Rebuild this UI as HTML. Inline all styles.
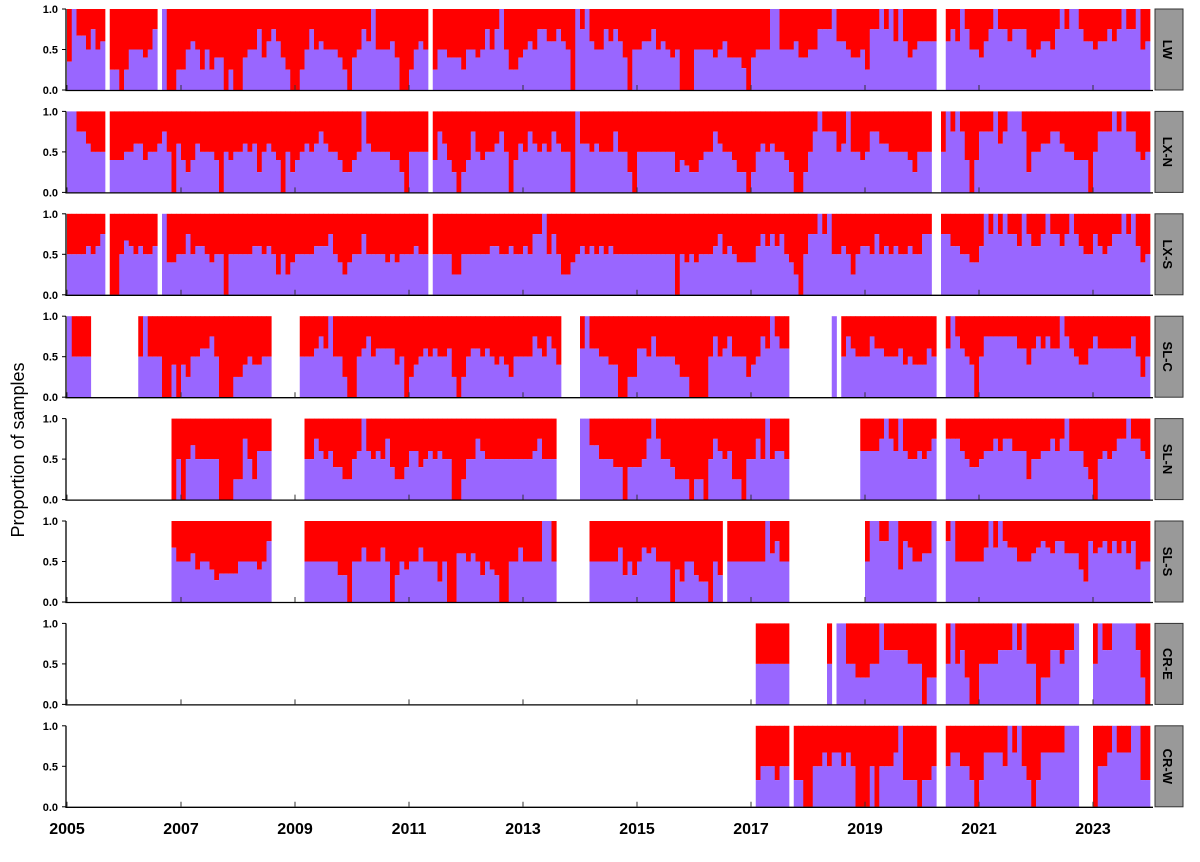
<!DOCTYPE html>
<html><head><meta charset="utf-8"><style>
html,body{margin:0;padding:0;background:#fff;}
svg{display:block;font-family:"Liberation Sans",Arial,sans-serif;}
</style></head><body>
<svg id="chart" width="1200" height="862" viewBox="0 0 1200 862" xmlns="http://www.w3.org/2000/svg">
<text x="0" y="0" transform="translate(24,450) rotate(-90)" text-anchor="middle" font-size="18">Proportion of samples</text>
</svg>
<script>
function N(n){return new Array(n).fill(null);}
const sites = ["LW","LX-N","LX-S","SL-C","SL-N","SL-S","CR-E","CR-W"];
const yTicks = [0,0.5,1];
const yTickLabels = ["0.0","0.5","1.0"];
const xYears = [2005,2007,2009,2011,2013,2015,2017,2019,2021,2023];
const LW = [.35,1,.67,.67,.5,.75,.5,.6,null,
.25,.25,0,.25,.5,.5,.5,.4,.5,.75,null,
1,0,0,.25,.25,.5,.6,.5,.25,.5,.25,.4,.4,0,.25,0,0,.4,.5,.5,.75,.4,.6,.75,.6,.4,.25,0,0,.25,.5,.75,.5,.6,.5,.5,.5,.4,.25,0,.4,.5,.75,.6,1,.5,.5,.5,.6,.4,0,0,.25,.5,.6,.5,null,
.25,.5,.5,.4,.4,.4,.25,.5,.5,.4,.5,.75,.5,.75,1,.5,.25,.25,.4,.5,.6,.5,.75,.75,.6,.6,.75,.6,.5,0,1,.75,1,.6,.5,
.5,.75,.6,.75,.6,.4,0,.5,.5,.6,.6,.75,.5,.6,.5,.4,.5,0,0,0,.5,.5,.5,.5,.4,.5,.6,.4,.4,.4,.27,0,.4,.5,.5,.5,1,1,.5,.5,.5,.6,.4,.4,.5,.5,.75,.75,.75,1,.6,.6,.5,.4,.4,.5,.25,.75,.75,1,.75,1,.6,1,.6,.4,.5,.6,.6,.6,.6,
null,null,
.6,.75,.6,1,.75,.5,.5,.4,.6,.75,1,.75,.75,.6,.75,.75,.75,.5,.4,.5,.6,.6,.5,.75,1,.75,1,1,.75,.6,.6,.5,.6,.6,.75,.6,.75,1,.75,.75,1,.5,.6];
const LXN = [1,1,.75,.75,.6,.5,.5,.5,null,
.4,.4,.4,.5,.5,.6,.6,.4,.5,.5,.6,.75,.5,0,.6,.4,.25,.4,.6,.5,.5,.5,.4,0,.5,.4,.5,.5,.6,.5,.6,.25,.5,.6,.5,.4,0,.5,.25,.4,.5,.6,.5,.6,.75,.6,.5,.5,.4,.25,.25,.4,.5,1,.6,.5,.5,.5,.5,.4,.4,.25,0,.5,.5,.5,.5,null,
.4,.75,.6,.4,.25,0,.25,.4,.75,.5,.4,.5,.5,.6,.75,.5,0,.4,.6,.5,.75,.6,.5,.6,.5,.75,.6,.5,.5,0,1,.6,.6,.5,.6,.5,.5,.5,.75,.5,.5,.25,0,.5,.5,.5,.5,.5,.5,.5,.5,.25,.4,.33,.25,.25,.4,.5,.5,.75,.6,.5,.5,.4,.25,.25,0,.25,.5,.6,.5,.6,.5,.5,.4,.25,0,0,.25,.5,.75,1,.75,.75,.75,.5,.6,1,.5,.5,.4,.5,.75,.75,.6,.6,.5,.5,.5,.5,.4,.25,.5,.5,.5,
null,null,
.5,1,.75,1,.75,.4,0,.4,.75,.75,.75,1,.6,.75,1,1,1,.75,.25,.5,.5,.6,.6,.75,.75,.6,.5,.5,.4,.4,.4,0,.5,.75,.75,.75,1,.75,1,.75,.75,.5,.4,.5];
const LXS = [.5,.5,.5,.5,.6,.5,.6,.75,null,
0,0,.5,.67,.6,.5,.6,.5,.5,.6,null,
1,.4,.4,.5,.5,.75,.5,.6,.6,.5,.4,.5,.5,0,.5,.5,.5,.5,.5,.6,.6,.5,.6,.5,.25,.5,.25,.4,.5,.5,.5,.5,.6,.6,.6,.75,.5,.4,.25,.4,.5,.5,.75,.5,.5,.5,.5,.4,.5,.4,.5,.5,.5,.6,.5,.5,null,
.5,.5,.5,.5,.25,.25,.5,.5,.5,.5,.5,.5,.6,.6,.5,.5,.6,.5,.5,.6,.5,.75,.75,1,.5,.75,.5,.25,.25,.4,.5,.6,.5,.6,.5,.6,.5,.6,.5,.5,.5,.5,.5,.5,.5,.5,.5,.5,.5,.5,.5,0,.5,.4,.5,.4,.5,.5,.5,.6,.75,.5,.6,.5,.4,.4,.4,.4,.6,.75,.6,.75,.6,.75,.5,.4,.25,0,.5,.75,.75,1,.75,1,.5,.5,.6,.5,.25,.5,.6,.6,.5,.75,.5,.6,.5,.6,.5,.5,.6,.5,.5,.75,.75,
null,null,
.75,.75,.6,.6,.5,.5,.4,.4,.6,1,.75,1,.75,1,.75,.75,.6,1,.75,.6,.6,.75,1,.75,.75,.6,.75,1,.75,.6,.5,.5,.75,.6,.5,.6,.75,.75,1,.75,1,.6,.4,.5];
const SLC = [1,.5,.5,.5,.5,...N(10),
.5,1,.5,.5,.5,0,0,.4,0,.4,.25,.5,.5,.6,.6,.75,.5,0,0,0,.25,.25,.4,.5,.4,.4,.5,.5,
...N(6),
.5,.5,.5,.6,.75,.6,1,.5,.5,.25,0,0,.5,.6,.75,.5,.6,.6,.6,.6,.4,.5,0,.25,.4,.5,.6,.5,.6,.5,.5,.6,.25,0,.25,.5,.6,.6,.5,.6,.5,.4,.5,.4,.25,.5,.5,.5,.5,.75,.6,.5,.75,.6,.4,
...N(4),
.6,1,.6,.6,.5,.5,.4,.4,0,0,.25,.25,.6,.6,.5,.75,.5,.5,.5,.5,.4,.25,.25,0,0,0,0,.5,.75,.5,.6,.75,.5,.5,.5,.25,.4,.5,.75,.6,1,.75,.6,.6,
...N(9),1,null,
.5,.75,.6,.5,.5,.5,.75,.6,.6,.5,.5,.5,.6,.4,.5,.4,.4,.4,.6,.5,
null,null,
.6,1,.75,.6,.5,.4,0,.5,.75,.75,.75,.75,.75,.75,.75,.6,.6,.4,.6,.75,.6,.75,.6,.6,1,.75,.6,.5,.4,.4,.6,.75,.6,.6,.6,.6,.6,.6,.6,.75,.5,.25,.5];
const SLN = [...N(22),
0,.5,0,.5,.67,.5,.5,.5,.5,.5,0,0,0,.25,.25,.75,.5,.25,.6,.6,.6,
...N(7),
.5,.5,.75,.6,.5,.6,.4,.4,.25,.25,.5,.6,1,.6,.5,.6,.5,.75,.4,.25,.25,.4,.6,.6,.4,.5,.6,.5,.6,.5,.5,0,0,.25,.5,.5,.75,.6,.5,.5,.5,.5,.5,.5,.5,.5,.5,.5,.6,.75,.5,.5,.5,
...N(5),
1,1,.67,.67,.5,.5,.5,.4,.4,0,.4,.4,.4,.5,.75,1,.75,.5,.5,.4,.25,.25,.25,0,.25,.25,0,.5,.75,.6,.5,.6,.25,.25,0,.5,.5,.75,.5,1,.5,.6,.6,.5,
...N(15),
.6,.6,.6,.6,.75,1,.75,.6,1,.6,.5,.5,.6,.5,.6,.75,
null,null,
.75,.75,.75,.6,.5,.4,.4,.5,.6,.6,.75,.6,.75,.75,.6,.6,.6,.25,.5,.5,.6,.6,.75,.6,.75,1,.6,.6,.6,.4,.25,0,.5,.6,.5,.6,.75,.75,1,.75,.75,.6,.5];
const SLS = [...N(22),
.67,.5,.5,.5,.6,.4,.5,.5,.4,.27,.35,.35,.35,.35,.5,.5,.5,.5,.4,.5,.75,
...N(7),
.5,.5,.5,.5,.5,.5,.5,.33,.33,0,.5,.5,.67,.5,.5,.5,.67,.5,0,.33,.5,.4,.5,.5,.67,.5,.5,.5,.25,.5,0,0,.6,.6,.5,.6,.5,.33,.5,.4,.33,0,0,.5,.5,.67,.5,.5,.5,.5,1,1,.5,
...N(7),
.5,.5,.5,.5,.5,.5,.67,.33,.5,.33,.5,.67,.6,.67,.5,.5,.5,0,.4,.25,.5,.5,.33,.25,.25,0,.5,.33,
null,
.5,.5,.5,.5,.5,.5,.5,.5,1,.6,.75,.5,.5,
...N(16),
.5,1,1,.75,.75,1,1,.4,.75,.67,.5,.5,.6,.6,1,
null,null,
.75,1,.5,.5,.5,.5,.5,.5,.67,1,.67,1,.75,.67,.67,.5,.5,.5,.6,.67,.75,.67,.6,.75,.75,.6,.6,.6,.4,.25,.75,.6,.67,.75,.6,.75,.6,.75,.6,.75,.4,.5,.5];
const CRE = [...N(145),
.5,.5,.5,.5,.5,.5,.5,
...N(8),.5,null,
1,1,.5,.5,.33,.33,.33,.5,.5,1,.67,.67,.67,.67,.67,.5,.5,.5,0,.33,.33,
null,null,
.5,1,.5,.67,.33,0,0,.5,.5,.5,.5,.67,.67,.67,1,.67,1,.5,.5,0,.33,.33,.67,.67,.5,.67,.67,1,
null,null,null,
.5,1,.67,.67,1,1,1,1,1,.67,.33,0];
const CRW = [...N(145),
.33,.5,.5,.5,.33,.5,.5,null,
.33,.33,0,0,.5,.5,.67,.5,.67,.67,.5,.67,.5,0,0,0,.5,0,.5,.5,.5,.67,1,.33,.33,.33,0,.33,.33,.5,
null,null,
.5,.67,.67,.5,.5,.33,0,.33,.67,.67,.67,.67,.5,1,.67,1,.5,.33,0,.33,.67,.67,.67,.67,.67,1,1,1,
null,null,null,
0,.5,.5,.67,1,.67,.67,.67,1,1,.33,.33];
const series = [LW,LXN,LXS,SLC,SLN,SLS,CRE,CRW];

const NS="http://www.w3.org/2000/svg";
const svg=document.getElementById('chart');
const X0=67, MW=4.75, START=2005;
const PH=81, TOP0=9, STEP=102.4;
function xIdx(i){return X0+MW*i;}
function xYear(y){return X0+(y-START)*12*MW;}
function mk(tag,attrs,parent){const e=document.createElementNS(NS,tag);for(const k in attrs)e.setAttribute(k,attrs[k]);(parent||svg).appendChild(e);return e;}
series.forEach((vals,p)=>{
  const top=TOP0+p*STEP, bot=top+PH;
  const yS=v=>bot-v*PH;
  const g=mk('g',{});
  
  
  vals.forEach((v,i)=>{
    if(v===null||v===undefined)return;
    const x=xIdx(i);
    const r=mk('rect',{x:x,y:top,width:MW+0.35,height:yS(v)-top,fill:'#ff0000'},g);
    
    
    const b=mk('rect',{x:x,y:yS(v),width:MW+0.35,height:bot-yS(v),fill:'#9966ff'},g);
    
    
  });
  const ax=mk('path',{d:`M66,${top} V${bot+0.5} H1153`,stroke:'#000','stroke-width':1.3,fill:'none'},g);
  
  
  yTicks.forEach((t,k)=>{
    const tk=mk('line',{x1:62,x2:66,y1:yS(t),y2:yS(t),stroke:'#000'},g);
    
    
    const tx=mk('text',{x:58,y:yS(t)+4,'text-anchor':'end','font-size':11,'font-weight':'bold'},g);
    tx.textContent=yTickLabels[k];
    
    
  });
  xYears.forEach(y=>{
    const tk=mk('line',{x1:xYear(y),x2:xYear(y),y1:bot,y2:bot-5,stroke:'#333'},g);
    
    
  });
  const st=mk('rect',{x:1155,y:top,width:28,height:PH,fill:'#999999',stroke:'#333','stroke-width':1},g);
  
  
  const sl=mk('text',{transform:`translate(1163,${top+PH/2}) rotate(90)`,'text-anchor':'middle','font-size':13,'font-weight':'bold'},g);
  sl.textContent=sites[p];
  
  
});
xYears.forEach(y=>{
  const t=mk('text',{x:xYear(y),y:834,'text-anchor':'middle','font-size':16,'font-weight':'bold'});
  t.textContent=String(y);
  
  
});
</script>
</body></html>
